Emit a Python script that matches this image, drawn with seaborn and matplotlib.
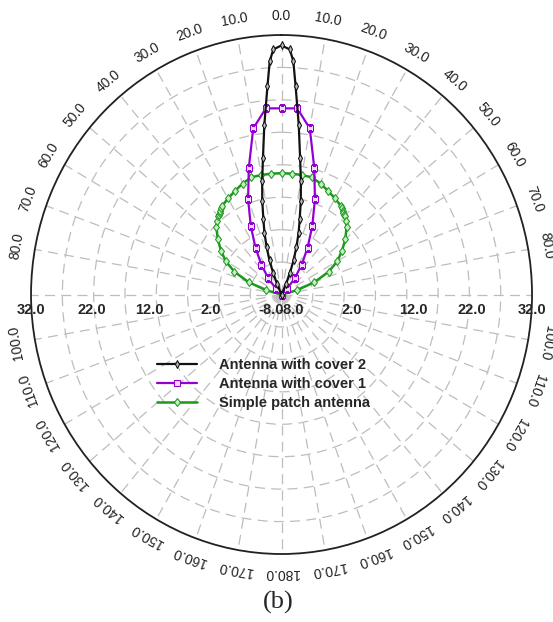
import numpy as np
import matplotlib
matplotlib.use("Agg")
import matplotlib.pyplot as plt
import matplotlib.transforms as mtransforms
import seaborn as sns

# gain (dB), angle in degrees (0 = top, clockwise)
cover2_angle = [-26, -24, -22, -20, -18, -16, -14, -12, -10, -8, -6, -4, -3, -2, 0,
                2, 3, 4, 6, 8, 10, 12, 14, 16, 18, 20, 22, 24, 26]
cover2_gain = [-8.0, -6.3, -4.4, -2.4, -0.3, 1.9, 4.0, 6.8, 9.8, 13.3, 18.3, 24.2, 28.0, 29.8,
               30.4,
               29.8, 28.0, 24.2, 18.3, 13.3, 9.8, 6.8, 4.0, 1.9, -0.3, -2.4, -4.4, -6.3, -8.0]

cover1_angle = [-50, -45, -40, -35, -30, -25, -20, -15, -10, -5, 0,
                5, 10, 15, 20, 25, 30, 35, 40, 45, 50]
cover1_gain = [-8.0, -6.7, -4.7, -2.4, 0.3, 3.6, 7.6, 12.2, 18.0, 20.8, 20.7,
               20.8, 18.0, 12.2, 7.6, 3.6, 0.3, -2.4, -4.7, -6.7, -8.0]

patch_angle = [-80, -75, -70, -65, -60, -55, -50, -45, -42, -40, -39, -38, -37, -36, -35,
               -30, -25, -20, -15, -10, -5, 0, 5, 10, 15, 20, 25, 30,
               35, 36, 37, 38, 39, 40, 42, 45, 50, 55, 60, 65, 70, 75, 80]
patch_gain = [-8.0, -5.4, -2.4, 0.3, 2.3, 3.8, 5.3, 6.7, 7.3, 7.7, 7.8, 8.0, 8.2, 8.4, 8.6,
              9.1, 9.6, 10.2, 10.7, 10.7, 10.7, 10.7, 10.7, 10.7, 10.7, 10.2, 9.6, 9.1,
              8.6, 8.4, 8.2, 8.0, 7.8, 7.7, 7.3, 6.7, 5.3, 3.8, 2.3, 0.3, -2.4, -5.4, -8.0]

series_names = ["Antenna with cover 2", "Antenna with cover 1", "Simple patch antenna"]
angle_ticks = [a for a in range(-170, 190, 10) if abs(a) != 90]
radial_ticks = [2, 12, 22, 32]
radial_grid = [-3, 2, 7, 12, 17, 22, 27, 32]

sns.set_style("white")
plt.rcParams["font.family"] = ["Liberation Sans", "DejaVu Sans"]

fig = plt.figure(figsize=(5.53, 6.22), dpi=100)
ax = fig.add_axes([0.0561, 0.1093, 0.906, 0.8344], projection="polar")
ax.set_aspect("auto")
ax.set_theta_zero_location("N")
ax.set_theta_direction(-1)

sns.lineplot(x=np.deg2rad(patch_angle), y=patch_gain, ax=ax, color="#1a9a1a", lw=1.8,
             marker="d", markersize=4.5, markerfacecolor="#c8ecc8", markeredgecolor="#1a9a1a",
             estimator=None, sort=False, label=series_names[2], zorder=3)
sns.lineplot(x=np.deg2rad(cover1_angle), y=cover1_gain, ax=ax, color="#9400d3", lw=1.6,
             marker="s", markersize=4, markerfacecolor="#f0dcfa", markeredgecolor="#9400d3",
             estimator=None, sort=False, label=series_names[1], zorder=4)
sns.lineplot(x=np.deg2rad(cover2_angle), y=cover2_gain, ax=ax, color="#111111", lw=1.6,
             marker="d", markersize=3.6, markerfacecolor="#bbbbbb", markeredgecolor="#111111",
             estimator=None, sort=False, label=series_names[0], zorder=5)

ax.set_rlim(-8, 32)
ax.set_yticks(radial_grid)
ax.set_yticklabels([])
ax.set_xticks(np.deg2rad(np.arange(0, 360, 10)))
ax.set_xticklabels([])
ax.grid(True, color="#bdbdbd", linestyle=(0, (8, 5)), linewidth=0.9)
ax.spines["polar"].set_color("#222222")
ax.spines["polar"].set_linewidth(1.3)
ax.set_xlabel("")
ax.set_ylabel("")

for a in angle_ticks:
    ax.text(np.deg2rad(a), 35.0, "%.1f" % abs(a), rotation=-a, rotation_mode="anchor",
            ha="center", va="center", fontsize=10, color="#222222", clip_on=False)

# radial labels sit a little outside their rings in the reference
label_shift = {2: 8, 12: 7, 22: 2, 32: 0}
for r in radial_ticks:
    for side, sign in ((90, 1), (-90, -1)):
        tr = mtransforms.offset_copy(ax.transData, fig=fig, x=sign * label_shift[r], y=-15,
                                     units="dots")
        ax.text(np.deg2rad(side), r, "%.1f" % r, transform=tr, ha="center", va="center",
                fontsize=10.5, fontweight="bold", clip_on=False)
for dx in (-10, 10):
    tr = mtransforms.offset_copy(ax.transData, fig=fig, x=dx, y=-15, units="dots")
    ax.text(0, -8, "-8.0", transform=tr, ha="center", va="center",
            fontsize=10.5, fontweight="bold", clip_on=False)

handles, labels = ax.get_legend_handles_labels()
order = [labels.index(n) for n in series_names]
ax.legend([handles[i] for i in order], series_names, loc="upper left",
          bbox_to_anchor=(157 / 553, 1 - 358 / 622), bbox_transform=fig.transFigure,
          frameon=False, prop={"weight": "bold", "size": 10.5},
          handlelength=2.75, handletextpad=1.5, labelspacing=0.35,
          borderpad=0, borderaxespad=0, numpoints=1)

fig.text(278 / 553, 1 - 602 / 622, "(b)", ha="center", va="center", fontsize=19,
         family="Liberation Serif")

fig.savefig("out.png", dpi=100)
